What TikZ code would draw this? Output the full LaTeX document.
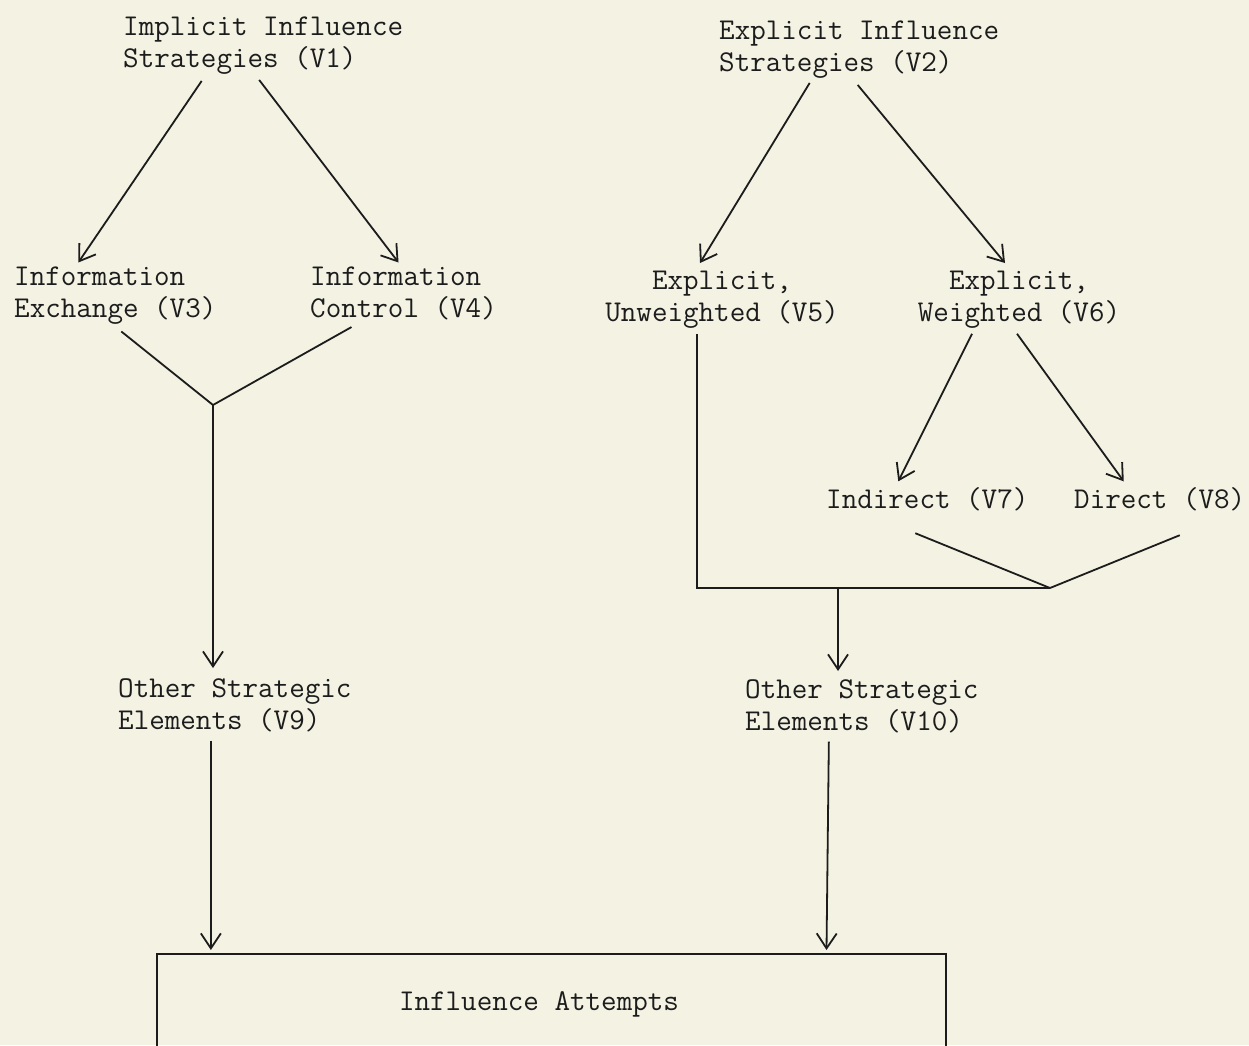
\documentclass[tikz,border=0pt]{standalone}
\usepackage{fontspec}
\usetikzlibrary{arrows.meta,calc}
\definecolor{paper}{RGB}{243,242,227}
\definecolor{ink}{RGB}{28,28,28}
\begin{document}
\begin{tikzpicture}[x=1pt,y=-1pt,
  every node/.style={font=\fontsize{30.2}{32}\selectfont\ttfamily, text=ink, inner sep=0pt},
  lbl/.style={align=left, anchor=north west},
  clbl/.style={align=center, anchor=north},
  arr/.style={draw=ink, line width=1.8pt, -{Straight Barb[length=15pt,width=20pt]}},
  ln/.style={draw=ink, line width=1.8pt},
  boxnode/.style={draw=ink, line width=1.8pt, minimum width=789pt, minimum height=101pt, anchor=north}]
\fill[paper] (0,0) rectangle (1249,1045);
\useasboundingbox (0,0) rectangle (1249,1045);

\node[lbl] (v1) at (123,17) {Implicit Influence\\Strategies (V1)};
\node[lbl] (v2) at (719,21) {Explicit Influence\\Strategies (V2)};
\node[lbl] (v3) at (14,266.5) {Information\\Exchange (V3)};
\node[lbl] (v4) at (310,266.5) {Information\\Control (V4)};
\node[clbl] (v5) at (722,271) {Explicit,\\Unweighted (V5)};
\node[clbl] (v6) at (1019,271) {Explicit,\\Weighted (V6)};
\node[anchor=base west] (v7) at (826,508.5) {Indirect (V7)};
\node[anchor=base west] (v8) at (1074,508.5) {Direct (V8)};
\node[lbl] (v9) at (118,678) {Other Strategic\\Elements (V9)};
\node[lbl] (v10) at (745,679) {Other Strategic\\Elements (V10)};
\node[boxnode] (ia) at (551.5,953) {Influence Attempts\hspace*{25pt}};

% left tree
\draw[arr] ($(v1.south)+(-61.5,6)$) -- ($(v3.north)+(-37,-4)$);
\draw[arr] ($(v1.south)+(-4,5)$) -- ($(v4.north)+(-5,-4)$);
\coordinate (j1) at (213,405);
\draw[ln] ($(v3.south)+(6,7)$) -- (j1);
\draw[ln] ($(v4.south)+(-52,7)$) -- (j1);
\draw[arr] (j1) -- ($(j1 |- v9.north)+(0,-10)$);
\coordinate (s9) at ($(v9.south)+(-24,9)$);
\draw[arr] (s9) -- ($(s9 |- ia.north)+(0,-3)$);

% right tree
\draw[arr] ($(v2.south)+(-49.5,4)$) -- ($(v5.north)+(-22,-8)$);
\draw[arr] ($(v2.south)+(-1.5,6)$) -- ($(v6.north)+(-14,-8)$);
\coordinate (j2) at (1050,588);
\coordinate (s5) at ($(v5.south)+(-25,5)$);
\draw[ln] (s5) -- (s5 |- j2) -- (j2);
\draw[arr] ($(v6.south)+(-47,5)$) -- ($(v7.north)+(-29,-6)$);
\draw[arr] ($(v6.south)+(-2,5)$) -- ($(v8.north)+(-36,-6)$);
\draw[ln] ($(v7.south)+(-12,22)$) -- (j2);
\draw[ln] ($(v8.south)+(20,24)$) -- (j2);
\coordinate (j3) at (838,588);
\draw[arr] (j3) -- ($(j3 |- v10.north)+(0,-8)$);
\coordinate (s10) at ($(v10.south)+(-33,9)$);
\draw[arr] (s10) -- ($(ia.north)+(275,-3)$);
\end{tikzpicture}
\end{document}
